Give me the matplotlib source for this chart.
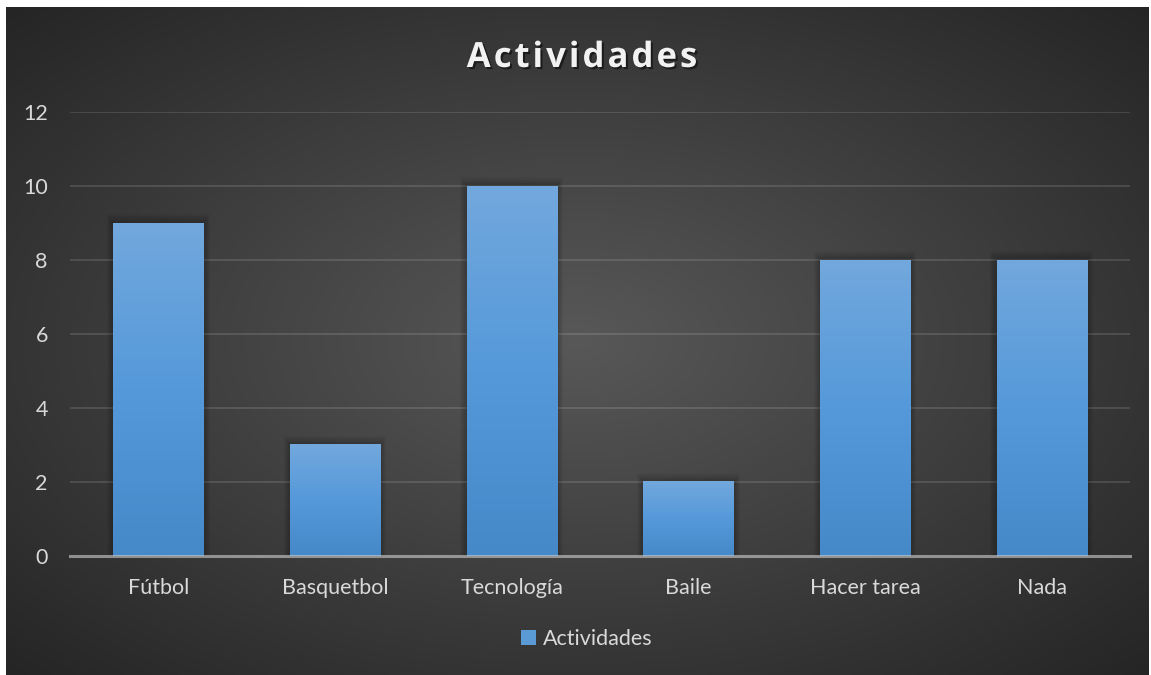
import numpy as np
import matplotlib
matplotlib.use("Agg")
import matplotlib.pyplot as plt
import matplotlib.patheffects as pe
from matplotlib.patches import Rectangle

# Datos del grafico
categorias = ["Fútbol", "Basquetbol", "Tecnología", "Baile", "Hacer tarea", "Nada"]
valores = [9, 3, 10, 2, 8, 8]
serie = "Actividades"
titulo = "Actividades"
y_ticks = [0, 2, 4, 6, 8, 10, 12]

plt.rcParams['font.family'] = ['Lato', 'DejaVu Sans']

W, H = 1151, 675
fig = plt.figure(figsize=(W / 100, H / 100), dpi=100, facecolor='white')

# Fondo con degradado radial (area del grafico, con margen blanco)
bg = fig.add_axes([6 / W, 0, (W - 8) / W, (H - 7) / H])
bg.set_axis_off()
yy, xx = np.mgrid[0:1:300j, 0:1:500j]
r = np.sqrt(((xx - 0.5) / 0.5) ** 2 + ((yy - 0.5) / 0.5) ** 2) / np.sqrt(2)
lum = 0.345 - 0.2 * r
img = np.dstack([lum, lum, lum])
bg.imshow(np.clip(img, 0, 1), aspect='auto', extent=[0, 1, 0, 1], interpolation='bilinear')
bg.set_xlim(0, 1)
bg.set_ylim(0, 1)

# Ejes principales
x0, x1 = 70, 1130
ytop, ybot = 112, 556
ax = fig.add_axes([x0 / W, (H - ybot) / H, (x1 - x0) / W, (ybot - ytop) / H])
ax.patch.set_alpha(0)
ax.set_xlim(-0.5, len(categorias) - 0.5)
ax.set_ylim(0, 12)

for s in ax.spines.values():
    s.set_visible(False)

for t in y_ticks[1:]:
    ax.axhline(t, color='white', alpha=0.12, lw=1.5, zorder=1)

xs = np.arange(len(categorias))
ancho = 0.51
barras = ax.bar(xs, valores, width=ancho, color='#5b9bd5', zorder=3, label=serie)

# Degradado vertical y sombra suave de cada barra
grad = np.linspace(0, 1, 256).reshape(-1, 1)
cmap = matplotlib.colors.LinearSegmentedColormap.from_list(
    'azul', ['#4589c9', '#5599da', '#72a8dd'])
for b in barras:
    bx, bw, bh = b.get_x(), b.get_width(), b.get_height()
    for k in range(1, 7):
        dx = 0.006 * k
        dy = 0.04 * k
        ax.add_patch(Rectangle((bx - dx, 0), bw + 2 * dx, bh + dy,
                               color='black', alpha=0.04, lw=0, zorder=2))
    ax.imshow(grad, cmap=cmap, aspect='auto', origin='lower',
              extent=[bx, bx + bw, 0, bh], zorder=3.5)
ax.set_xlim(-0.5, len(categorias) - 0.5)
ax.set_ylim(0, 12)

# Linea base
ax.axhline(0, color='#d0d0d0', alpha=0.6, lw=2.2, zorder=5, clip_on=False)

ax.set_xticks(xs)
ax.set_xticklabels(categorias)
ax.set_yticks(y_ticks)
ax.tick_params(axis='both', length=0, colors='#d9d9d9', labelsize=15.5)
ax.tick_params(axis='x', pad=16)
ax.tick_params(axis='y', pad=16)

# Titulo con espaciado entre letras
renderer = fig.canvas.get_renderer()
estilo = dict(fontsize=25, fontweight='bold', color='#f2f2f2',
              fontfamily=['Open Sans', 'DejaVu Sans'], va='baseline', ha='left',
              path_effects=[pe.withSimplePatchShadow(offset=(1.5, -1.5),
                                                     shadow_rgbFace='black', alpha=0.5)])
espacio = 3.0
letras = []
anchos = []
for ch in titulo:
    t = fig.text(0, 0, ch, **estilo)
    letras.append(t)
    anchos.append(t.get_window_extent(renderer).width)
total = sum(anchos) + espacio * (len(titulo) - 1)
xpos = 582 - total / 2
for t, w in zip(letras, anchos):
    t.set_position((xpos / W, 1 - 67 / H))
    xpos += w + espacio

leg = fig.legend(handles=[barras[0]], labels=[serie], loc='center',
                 bbox_to_anchor=(587 / W, 1 - 639 / H), frameon=False,
                 fontsize=15.5, handlelength=0.7, handleheight=0.7, handletextpad=0.3,
                 labelcolor='#d9d9d9')

fig.savefig('out.png', dpi=100, facecolor='white')
